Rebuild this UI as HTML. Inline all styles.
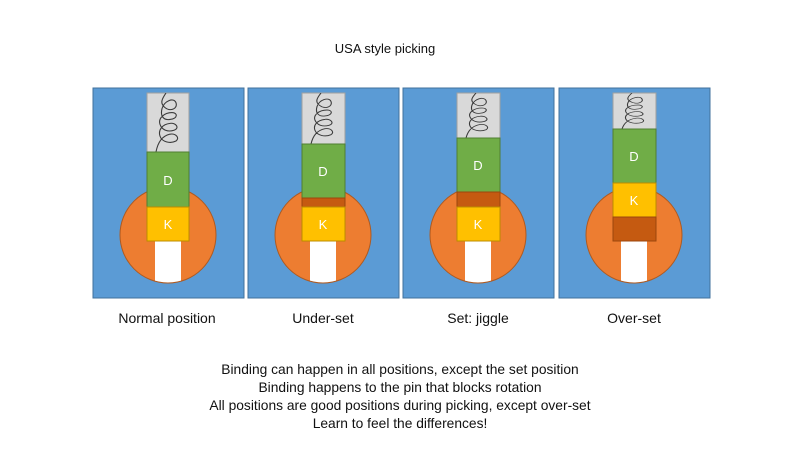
<!DOCTYPE html>
<html><head><meta charset="utf-8"><style>
html,body{margin:0;padding:0;background:#fff;width:800px;height:450px;overflow:hidden}
text{font-family:"Liberation Sans",sans-serif;fill:#111}
.w{fill:#fff}
</style></head><body>
<svg width="800" height="450" viewBox="0 0 800 450" xmlns="http://www.w3.org/2000/svg">
<defs>
<clipPath id="c1"><circle cx="168" cy="235" r="48"/></clipPath>
<clipPath id="c2"><circle cx="323" cy="235" r="48"/></clipPath>
<clipPath id="c3"><circle cx="478" cy="235" r="48"/></clipPath>
<clipPath id="c4"><circle cx="634" cy="235" r="48"/></clipPath>
<clipPath id="g1"><rect x="147" y="93" width="42" height="59"/></clipPath>
<clipPath id="g2"><rect x="302" y="93" width="43" height="51"/></clipPath>
<clipPath id="g3"><rect x="457" y="93" width="43" height="45"/></clipPath>
<clipPath id="g4"><rect x="613" y="93" width="43" height="36"/></clipPath>
<path id="sp" d="M2,0 C-2,6 -4,10 0,14 C6,20 14,16 12,10 C10,4 0,8 -2,16 C-4,24 0,28 6,27 C14,26 14,20 8,20 C0,20 -6,26 -4,32 C-2,38 4,40 10,38 C16,36 12,30 6,31 C-2,32 -6,38 -4,44 C-2,50 6,52 12,49 C16,46 12,41 6,42 C-2,44 -6,50 -8,60" fill="none" stroke="#3a3a3a" stroke-width="1.1"/>
</defs>
<text x="385" y="53" font-size="13" text-anchor="middle">USA style picking</text>

<!-- Panel 1 -->
<rect x="93" y="88" width="151" height="210" fill="#5b9bd5" stroke="#41719c"/>
<circle cx="168" cy="235" r="48" fill="#ed7d31"/>
<rect x="155" y="241" width="26" height="50" fill="#fff" clip-path="url(#c1)"/>
<circle cx="168" cy="235" r="48" fill="none" stroke="#ae5a21"/>
<rect x="147" y="93" width="42" height="59" fill="#d9d9d9" stroke="#a0a0a0"/>
<g clip-path="url(#g1)"><use href="#sp" transform="translate(164,93) scale(1,0.98)"/></g>
<rect x="147" y="152" width="42" height="55" fill="#70ad47" stroke="#507e32"/>
<rect x="147" y="207" width="42" height="34" fill="#ffc000" stroke="#bc8c00"/>
<text x="168" y="185" font-size="13" class="w" text-anchor="middle">D</text>
<text x="168" y="229" font-size="13" class="w" text-anchor="middle">K</text>

<!-- Panel 2 -->
<rect x="248" y="88" width="151" height="210" fill="#5b9bd5" stroke="#41719c"/>
<circle cx="323" cy="235" r="48" fill="#ed7d31"/>
<rect x="310" y="241" width="26" height="50" fill="#fff" clip-path="url(#c2)"/>
<circle cx="323" cy="235" r="48" fill="none" stroke="#ae5a21"/>
<rect x="302" y="93" width="43" height="51" fill="#d9d9d9" stroke="#a0a0a0"/>
<g clip-path="url(#g2)"><use href="#sp" transform="translate(319,93) scale(1,0.85)"/></g>
<rect x="302" y="144" width="43" height="54" fill="#70ad47" stroke="#507e32"/>
<rect x="302" y="198" width="43" height="9" fill="#c55a11" stroke="#9c470d"/>
<rect x="302" y="207" width="43" height="34" fill="#ffc000" stroke="#bc8c00"/>
<text x="323" y="176" font-size="13" class="w" text-anchor="middle">D</text>
<text x="323" y="229" font-size="13" class="w" text-anchor="middle">K</text>

<!-- Panel 3 -->
<rect x="403" y="88" width="151" height="210" fill="#5b9bd5" stroke="#41719c"/>
<circle cx="478" cy="235" r="48" fill="#ed7d31"/>
<rect x="465" y="241" width="26" height="50" fill="#fff" clip-path="url(#c3)"/>
<circle cx="478" cy="235" r="48" fill="none" stroke="#ae5a21"/>
<rect x="457" y="93" width="43" height="45" fill="#d9d9d9" stroke="#a0a0a0"/>
<g clip-path="url(#g3)"><use href="#sp" transform="translate(474,93) scale(1,0.75)"/></g>
<rect x="457" y="138" width="43" height="54" fill="#70ad47" stroke="#507e32"/>
<rect x="457" y="192" width="43" height="15" fill="#c55a11" stroke="#9c470d"/>
<rect x="457" y="207" width="43" height="34" fill="#ffc000" stroke="#bc8c00"/>
<text x="478" y="170" font-size="13" class="w" text-anchor="middle">D</text>
<text x="478" y="229" font-size="13" class="w" text-anchor="middle">K</text>

<!-- Panel 4 -->
<rect x="559" y="88" width="151" height="210" fill="#5b9bd5" stroke="#41719c"/>
<circle cx="634" cy="235" r="48" fill="#ed7d31"/>
<rect x="621" y="241" width="26" height="50" fill="#fff" clip-path="url(#c4)"/>
<circle cx="634" cy="235" r="48" fill="none" stroke="#ae5a21"/>
<rect x="613" y="93" width="43" height="36" fill="#d9d9d9" stroke="#a0a0a0"/>
<g clip-path="url(#g4)"><use href="#sp" transform="translate(630,93) scale(1,0.6)"/></g>
<rect x="613" y="129" width="43" height="54" fill="#70ad47" stroke="#507e32"/>
<rect x="613" y="183" width="43" height="34" fill="#ffc000" stroke="#bc8c00"/>
<rect x="613" y="217" width="43" height="24" fill="#c55a11" stroke="#9c470d"/>
<text x="634" y="161" font-size="13" class="w" text-anchor="middle">D</text>
<text x="634" y="205" font-size="13" class="w" text-anchor="middle">K</text>

<text x="167" y="323" font-size="14" text-anchor="middle">Normal position</text>
<text x="323" y="323" font-size="14" text-anchor="middle">Under-set</text>
<text x="478" y="323" font-size="14" text-anchor="middle">Set: jiggle</text>
<text x="634" y="323" font-size="14" text-anchor="middle">Over-set</text>

<text x="400" y="374" font-size="13.8" text-anchor="middle">Binding can happen in all positions, except the set position</text>
<text x="400" y="392" font-size="13.8" text-anchor="middle">Binding happens to the pin that blocks rotation</text>
<text x="400" y="410" font-size="13.8" text-anchor="middle">All positions are good positions during picking, except over-set</text>
<text x="400" y="428" font-size="13.8" text-anchor="middle">Learn to feel the differences!</text>
</svg>
</body></html>
